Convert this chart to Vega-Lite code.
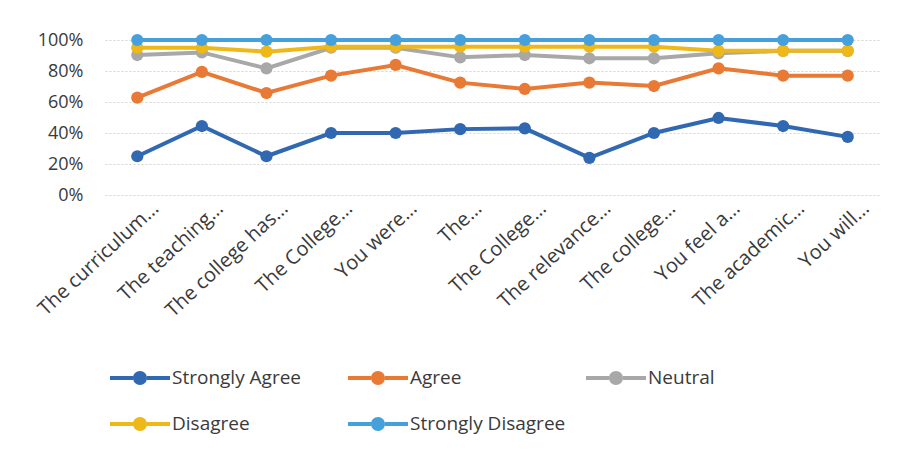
{
  "$schema": "https://vega.github.io/schema/vega-lite/v6.json",
  "autosize": "none",
  "width": 775,
  "height": 155,
  "padding": {"left": 105, "top": 40, "right": 19, "bottom": 255},
  "background": "white",
  "config": {
    "font": "Open Sans",
    "view": {"stroke": null},
    "axis": {"labelFont": "Open Sans", "labelColor": "#3a3a3a"},
    "legend": {"labelFont": "Open Sans", "labelColor": "#3a3a3a"}
  },
  "data": {
    "values": [
      {"q": "The curriculum…", "s": "Strongly Agree", "v": 0.25},
      {"q": "The teaching…", "s": "Strongly Agree", "v": 0.445},
      {"q": "The college has…", "s": "Strongly Agree", "v": 0.25},
      {"q": "The College… ", "s": "Strongly Agree", "v": 0.40},
      {"q": "You were…", "s": "Strongly Agree", "v": 0.40},
      {"q": "The…", "s": "Strongly Agree", "v": 0.425},
      {"q": "The College…", "s": "Strongly Agree", "v": 0.43},
      {"q": "The relevance…", "s": "Strongly Agree", "v": 0.24},
      {"q": "The college…", "s": "Strongly Agree", "v": 0.40},
      {"q": "You feel a…", "s": "Strongly Agree", "v": 0.497},
      {"q": "The academic…", "s": "Strongly Agree", "v": 0.445},
      {"q": "You will…", "s": "Strongly Agree", "v": 0.375},
      {"q": "The curriculum…", "s": "Agree", "v": 0.628},
      {"q": "The teaching…", "s": "Agree", "v": 0.794},
      {"q": "The college has…", "s": "Agree", "v": 0.658},
      {"q": "The College… ", "s": "Agree", "v": 0.77},
      {"q": "You were…", "s": "Agree", "v": 0.839},
      {"q": "The…", "s": "Agree", "v": 0.725},
      {"q": "The College…", "s": "Agree", "v": 0.684},
      {"q": "The relevance…", "s": "Agree", "v": 0.725},
      {"q": "The college…", "s": "Agree", "v": 0.703},
      {"q": "You feel a…", "s": "Agree", "v": 0.817},
      {"q": "The academic…", "s": "Agree", "v": 0.77},
      {"q": "You will…", "s": "Agree", "v": 0.77},
      {"q": "The curriculum…", "s": "Neutral", "v": 0.903},
      {"q": "The teaching…", "s": "Neutral", "v": 0.92},
      {"q": "The college has…", "s": "Neutral", "v": 0.817},
      {"q": "The College… ", "s": "Neutral", "v": 0.95},
      {"q": "You were…", "s": "Neutral", "v": 0.95},
      {"q": "The…", "s": "Neutral", "v": 0.888},
      {"q": "The College…", "s": "Neutral", "v": 0.903},
      {"q": "The relevance…", "s": "Neutral", "v": 0.882},
      {"q": "The college…", "s": "Neutral", "v": 0.882},
      {"q": "You feel a…", "s": "Neutral", "v": 0.914},
      {"q": "The academic…", "s": "Neutral", "v": 0.93},
      {"q": "You will…", "s": "Neutral", "v": 0.93},
      {"q": "The curriculum…", "s": "Disagree", "v": 0.95},
      {"q": "The teaching…", "s": "Disagree", "v": 0.95},
      {"q": "The college has…", "s": "Disagree", "v": 0.925},
      {"q": "The College… ", "s": "Disagree", "v": 0.957},
      {"q": "You were…", "s": "Disagree", "v": 0.957},
      {"q": "The…", "s": "Disagree", "v": 0.957},
      {"q": "The College…", "s": "Disagree", "v": 0.957},
      {"q": "The relevance…", "s": "Disagree", "v": 0.957},
      {"q": "The college…", "s": "Disagree", "v": 0.957},
      {"q": "You feel a…", "s": "Disagree", "v": 0.93},
      {"q": "The academic…", "s": "Disagree", "v": 0.93},
      {"q": "You will…", "s": "Disagree", "v": 0.93},
      {"q": "The curriculum…", "s": "Strongly Disagree", "v": 1.0},
      {"q": "The teaching…", "s": "Strongly Disagree", "v": 1.0},
      {"q": "The college has…", "s": "Strongly Disagree", "v": 1.0},
      {"q": "The College… ", "s": "Strongly Disagree", "v": 1.0},
      {"q": "You were…", "s": "Strongly Disagree", "v": 1.0},
      {"q": "The…", "s": "Strongly Disagree", "v": 1.0},
      {"q": "The College…", "s": "Strongly Disagree", "v": 1.0},
      {"q": "The relevance…", "s": "Strongly Disagree", "v": 1.0},
      {"q": "The college…", "s": "Strongly Disagree", "v": 1.0},
      {"q": "You feel a…", "s": "Strongly Disagree", "v": 1.0},
      {"q": "The academic…", "s": "Strongly Disagree", "v": 1.0},
      {"q": "You will…", "s": "Strongly Disagree", "v": 1.0}
    ]
  },
  "mark": {"type": "line", "strokeWidth": 4, "point": {"filled": true, "size": 150, "opacity": 1}},
  "encoding": {
    "x": {
      "field": "q",
      "type": "nominal",
      "sort": null,
      "scale": {"type": "point", "padding": 0.5},
      "axis": {
        "title": null,
        "labelAngle": -43,
        "labelAlign": "right",
        "labelBaseline": "middle",
        "labelFontSize": 20,
        "labelOffset": 18,
        "labelPadding": 10,
        "domain": false,
        "ticks": false,
        "grid": false,
        "labelLimit": 300
      }
    },
    "y": {
      "field": "v",
      "type": "quantitative",
      "scale": {"domain": [0, 1], "nice": false, "zero": true},
      "axis": {
        "title": null,
        "format": ".0%",
        "values": [0, 0.2, 0.4, 0.6, 0.8, 1.0],
        "labelFontSize": 18,
        "labelPadding": 22,
        "domain": false,
        "ticks": false,
        "grid": true,
        "gridColor": "#d4d4d4",
        "gridDash": [2, 2],
        "gridWidth": 1
      }
    },
    "color": {
      "field": "s",
      "type": "nominal",
      "sort": ["Strongly Agree", "Agree", "Neutral", "Disagree", "Strongly Disagree"],
      "scale": {
        "domain": ["Strongly Agree", "Agree", "Neutral", "Disagree", "Strongly Disagree"],
        "range": ["#3068B2", "#E97A36", "#A8A8A8", "#EDB818", "#45A0DC"]
      },
      "legend": {
        "title": null,
        "orient": "none",
        "legendX": 5,
        "legendY": 308,
        "direction": "horizontal",
        "columns": 3,
        "gridAlign": "all",
        "columnPadding": 20,
        "rowPadding": 6,
        "labelFontSize": 19,
        "labelOffset": 2,
        "symbolType": "M-1,-0.07H-0.233V0.07H-1Z M0.233,-0.07H1V0.07H0.233Z M0.233,0A0.233,0.233 0 1 1 -0.233,0A0.233,0.233 0 1 1 0.233,0Z",
        "symbolSize": 3600,
        "symbolStrokeWidth": 0,
        "symbolOpacity": 1,
        "encode": {
          "symbols": {"update": {"fill": {"scale": "color", "field": "value"}, "strokeWidth": {"value": 0}}}
        }
      }
    }
  }
}
